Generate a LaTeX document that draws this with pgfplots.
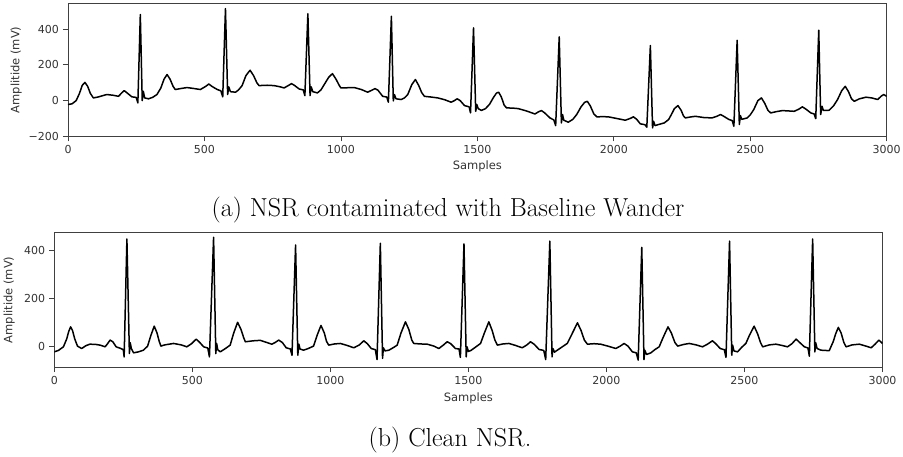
\documentclass[border=0pt]{standalone}
\usepackage{fontspec}
\usepackage{pgfplots}
\pgfplotsset{compat=1.18}
\newfontfamily\dejavu{DejaVu Sans}
\begin{document}
\begin{tikzpicture}[x=1pt,y=1pt]
\useasboundingbox (0,0) rectangle (903,456);
\pgfplotsset{ecg/.style={
  scale only axis, xmin=0, xmax=3000,
  axis line style={black!75, line width=0.8pt},
  tick align=outside, xtick pos=left, ytick pos=left,
  major tick length=5pt,
  tick style={black!75, line width=0.8pt},
  xtick={0,500,1000,1500,2000,2500,3000},
  xticklabels={0,500,1000,1500,2000,2500,3000},
  ticklabel style={font=\dejavu\fontsize{11}{13}\selectfont, text=black!80, inner sep=0pt},
  xticklabel style={yshift=-4pt},
  yticklabel style={xshift=-4pt},
  label style={font=\dejavu\fontsize{11.5}{13}\selectfont, text=black!80, inner sep=0pt},
  xlabel={Samples}, ylabel={Amplitide (mV)},
}}
\begin{axis}[ecg, at={(68pt,319.7pt)}, anchor=south west, width=818.7pt, height=133pt,
  ymin=-200, ymax=545, ytick={-200,0,200,400}, yticklabels={−200,0,200,400},
  xlabel style={at={(axis description cs:0.5,-0.18)}, anchor=north},
  ylabel style={at={(axis description cs:-0.0562,0.5)}, anchor=south}]
\addplot[black, line width=1.5pt, line join=round] coordinates {
(0,-22) (15,-18) (30,0) (42,40) (52,85) (62,102) (72,80) (82,40) (93,15) (110,20)
(142,34) (165,30) (185,24) (198,45) (206,56) (215,45) (234,21) (250,18) (256,-13) (265,482)
(272,0) (276,52) (281,15) (295,10) (310,18) (326,34) (340,70) (352,120) (363,146) (374,120)
(385,80) (393,62) (415,68) (436,73) (460,68) (485,62) (505,80) (516,93) (527,80) (547,62)
(560,55) (567,21) (577,515) (585,34) (589,77) (595,50) (614,47) (625,60) (638,84) (652,140)
(667,170) (680,140) (692,100) (700,84) (730,86) (755,84) (775,78) (792,71) (808,85) (819,95)
(830,85) (847,65) (862,60) (868,28) (879,487) (887,28) (891,77) (897,50) (914,43) (927,60)
(939,90) (955,130) (969,151) (982,120) (994,85) (1000,71) (1025,72) (1049,73) (1075,62) (1098,47)
(1113,58) (1125,67) (1136,58) (1153,24) (1168,20) (1174,-9) (1185,472) (1192,-2) (1196,34) (1202,10)
(1221,6) (1233,15) (1245,34) (1260,90) (1273,118) (1285,85) (1296,45) (1306,24) (1330,20) (1355,15)
(1380,5) (1404,-9) (1416,0) (1426,10) (1437,0) (1453,-28) (1470,-35) (1475,-69) (1486,407) (1494,-60)
(1498,-22) (1503,-45) (1515,-55) (1530,-45) (1545,-20) (1558,15) (1570,42) (1578,47) (1588,20) (1598,-25)
(1607,-41) (1630,-42) (1650,-45) (1680,-58) (1711,-75) (1725,-62) (1735,-56) (1746,-68) (1766,-97) (1780,-108)
(1787,-140) (1800,357) (1808,-125) (1812,-78) (1817,-110) (1833,-121) (1850,-105) (1864,-78) (1880,-35) (1893,-10)
(1903,-4) (1914,-30) (1927,-75) (1938,-91) (1960,-90) (1980,-91) (2010,-100) (2042,-110) (2060,-100) (2072,-91)
(2084,-105) (2097,-130) (2114,-135) (2121,-149) (2134,308) (2142,-153) (2146,-116) (2151,-140) (2164,-134) (2185,-125)
(2201,-106) (2212,-75) (2222,-45) (2235,-28) (2247,-55) (2255,-85) (2262,-97) (2280,-92) (2299,-88) (2330,-95)
(2360,-97) (2378,-88) (2391,-78) (2403,-88) (2422,-106) (2434,-112) (2440,-144) (2452,338) (2460,-134) (2464,-84)
(2469,-105) (2489,-97) (2500,-80) (2513,-50) (2528,0) (2541,15) (2553,-15) (2565,-55) (2575,-69) (2595,-62)
(2618,-56) (2640,-58) (2661,-60) (2678,-48) (2691,-35) (2704,-48) (2722,-69) (2734,-75) (2740,-101) (2751,394)
(2758,-78) (2763,-32) (2768,-55) (2789,-54) (2805,-30) (2820,6) (2835,55) (2848,80) (2860,50) (2871,10)
(2881,-4) (2900,10) (2924,19) (2945,15) (2967,6) (2980,25) (2989,34) (3000,24)
};
\end{axis}
\begin{axis}[ecg, at={(54.3pt,89pt)}, anchor=south west, width=828.2pt, height=134.3pt,
  ymin=-87, ymax=472, ytick={0,200,400}, yticklabels={0,200,400},
  xlabel style={at={(axis description cs:0.5,-0.194)}, anchor=north},
  ylabel style={at={(axis description cs:-0.0475,0.5)}, anchor=south}]
\addplot[black, line width=1.5pt, line join=round] coordinates {
(0,-24) (15,-18) (33,-3) (45,30) (52,60) (59,80) (66,65) (74,30) (84,0) (99,-10)
(115,2) (129,8) (150,7) (166,4) (184,-3) (193,10) (202,25) (212,18) (224,-3) (241,-10)
(250,-15) (253,-45) (263,446) (272,-31) (275,14) (279,-10) (287,-28) (305,-24) (323,-17) (338,0)
(350,45) (362,83) (372,55) (380,20) (386,0) (400,5) (432,11) (460,5) (480,-3) (497,10)
(514,29) (527,15) (541,-3) (556,-8) (562,-45) (577,453) (585,-31) (588,11) (592,-15) (601,-24)
(620,-10) (637,4) (650,55) (664,99) (676,70) (686,35) (692,18) (720,22) (746,24) (770,15)
(788,8) (800,15) (813,25) (826,15) (840,-7) (855,-12) (861,-38) (874,421) (882,-38) (886,8)
(890,-12) (903,-17) (920,-10) (939,0) (952,45) (966,86) (978,55) (986,20) (994,4) (1015,9)
(1036,11) (1060,3) (1085,-7) (1105,5) (1121,22) (1134,10) (1148,-10) (1163,-15) (1169,-56) (1181,428)
(1189,-51) (1192,-7) (1198,-20) (1212,-17) (1230,-5) (1242,4) (1256,55) (1272,101) (1284,70) (1295,25)
(1302,11) (1325,9) (1351,8) (1375,0) (1393,-10) (1410,5) (1423,18) (1435,11) (1453,-10) (1466,-12)
(1471,-47) (1484,425) (1492,-45) (1495,-3) (1500,-22) (1508,-19) (1525,-5) (1544,11) (1558,55) (1574,101)
(1586,65) (1596,25) (1605,4) (1625,9) (1647,11) (1670,3) (1695,-7) (1712,5) (1725,18) (1738,8)
(1756,-14) (1773,-18) (1780,-56) (1795,437) (1803,-45) (1806,-10) (1812,-25) (1822,-17) (1840,-3) (1858,11)
(1875,50) (1895,97) (1908,65) (1920,25) (1931,8) (1955,10) (1979,8) (2005,0) (2034,-10) (2050,0)
(2064,11) (2078,0) (2094,-24) (2108,-28) (2115,-58) (2128,411) (2136,-56) (2139,-17) (2145,-35) (2161,-28)
(2175,-15) (2191,-3) (2205,35) (2223,80) (2235,55) (2248,15) (2258,0) (2280,7) (2300,11) (2325,5)
(2348,-3) (2366,8) (2384,22) (2396,10) (2412,-10) (2427,-15) (2433,-47) (2446,437) (2454,-38) (2457,4)
(2462,-20) (2475,-24) (2490,-5) (2505,11) (2518,45) (2535,83) (2548,50) (2558,15) (2566,-3) (2590,5)
(2614,8) (2635,3) (2656,-3) (2672,10) (2687,29) (2700,15) (2717,-3) (2730,-8) (2735,-42) (2747,446)
(2755,-24) (2758,14) (2763,-10) (2777,-17) (2807,-19) (2822,20) (2830,50) (2840,78) (2850,55) (2860,15)
(2868,-3) (2890,5) (2916,8) (2940,0) (2959,-7) (2973,8) (2987,25) (3000,11)
};
\end{axis}
\node[font=\fontsize{26}{30}\selectfont, anchor=base] at (448,239.5) {(a) NSR contaminated with Baseline Wander};
\node[font=\fontsize{26}{30}\selectfont, anchor=base] at (450,10) {(b) Clean NSR.};
\end{tikzpicture}
\end{document}
